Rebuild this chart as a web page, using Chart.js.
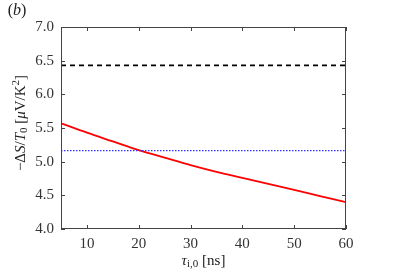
<!DOCTYPE html>
<html>
<head>
<meta charset="utf-8">
<style>
  *{margin:0;padding:0;box-sizing:border-box}
  html,body{width:407px;height:270px;background:#fff;overflow:hidden}
  .wrap{position:relative;width:407px;height:270px}
</style>
</head>
<body>
<div class="wrap"><canvas id="chart" width="407" height="270"></canvas></div>
<script src="https://cdn.jsdelivr.net/npm/chart.js@4/dist/chart.umd.min.js"></script>
<script>
// ─── Data ──────────────────────────────────────────────
const tau = [5, 10, 15, 20, 25, 30, 35, 40, 45, 50, 55, 60];
const deltaS = [5.57, 5.43, 5.30, 5.17, 5.06, 4.95, 4.85, 4.76, 4.67, 4.58, 4.49, 4.40];
const blackLevel = 6.43;
const blueLevel = 5.165;
const xTicks = [10, 20, 30, 40, 50, 60];
const yTicks = [4.0, 4.5, 5.0, 5.5, 6.0, 6.5, 7.0];

const SERIF = "'Liberation Serif', 'DejaVu Serif', serif";
const AXIS = "#444";

Chart.defaults.font.family = SERIF;
Chart.defaults.font.size = 15;

const pts = (xs, ys) => xs.map((x, i) => ({ x, y: ys[i] }));
const flat = (v) => [{ x: tau[0], y: v }, { x: tau[tau.length - 1], y: v }];

// draw a run of text pieces: [text, style, dy, sizeScale], centred on x
function drawRich(ctx, parts, x, y, size) {
  let w = 0;
  const seg = parts.map(([t, st, dy, sc]) => {
    ctx.font = `${st || ""} ${Math.round(size * (sc || 1))}px ${SERIF}`;
    const m = ctx.measureText(t).width;
    w += m;
    return { t, st, dy: dy || 0, sc: sc || 1, m };
  });
  let cx = x - w / 2;
  ctx.textBaseline = "middle";
  ctx.textAlign = "left";
  seg.forEach((s) => {
    ctx.font = `${s.st || ""} ${Math.round(size * s.sc)}px ${SERIF}`;
    ctx.fillText(s.t, cx, y + s.dy);
    cx += s.m;
  });
}

const frame = {
  id: "frame",
  afterDraw(chart) {
    const { ctx, chartArea: a, scales } = chart;
    ctx.save();
    ctx.strokeStyle = AXIS;
    ctx.lineWidth = 1;
    ctx.strokeRect(a.left + 0.5, a.top + 0.5, a.right - a.left - 1, a.bottom - a.top - 1);
    ctx.beginPath();
    xTicks.forEach((v) => {
      const px = Math.round(scales.x.getPixelForValue(v)) + 0.5;
      ctx.moveTo(px, a.bottom); ctx.lineTo(px, a.bottom - 4);
      ctx.moveTo(px, a.top); ctx.lineTo(px, a.top + 4);
    });
    yTicks.forEach((v) => {
      const py = Math.round(scales.y.getPixelForValue(v)) + 0.5;
      ctx.moveTo(a.left, py); ctx.lineTo(a.left + 4, py);
      ctx.moveTo(a.right, py); ctx.lineTo(a.right - 4, py);
    });
    ctx.stroke();

    ctx.fillStyle = "#222";
    // panel label
    drawRich(ctx, [["(", ""], ["b", "italic"], [")", ""]], 17, 11, 16);
    // x title
    drawRich(ctx, [["τ", "italic"], ["i,0", "", 3, 0.72], [" [ns]", ""]], (a.left + a.right) / 2, 261, 15);
    // y title
    ctx.translate(21, 123);
    ctx.rotate(-Math.PI / 2);
    drawRich(ctx, [
      ["−Δ", ""], ["S", "italic"], ["/", ""], ["T", "italic"], ["0", "", 3, 0.72],
      [" [", ""], ["μ", "italic"], ["V/K", ""], ["2", "", -5, 0.72], ["]", ""]
    ], 0, 0, 15);
    ctx.restore();
  }
};

const ctx = document.getElementById("chart").getContext("2d");
new Chart(ctx, {
  type: "line",
  data: {
    datasets: [
      { data: flat(blackLevel), borderColor: "#000", borderWidth: 1.6, borderDash: [5, 4], pointRadius: 0 },
      { data: flat(blueLevel), borderColor: "#3333ff", borderWidth: 1.2, borderDash: [1.5, 1.5], pointRadius: 0 },
      { data: pts(tau, deltaS), borderColor: "#ff0000", borderWidth: 1.8, pointRadius: 0, cubicInterpolationMode: "monotone" },
    ],
  },
  options: {
    responsive: false,
    animation: false,
    events: [],
    layout: { padding: { left: 0, top: 27, right: 61, bottom: 0 } },
    plugins: { legend: { display: false }, tooltip: { enabled: false } },
    scales: {
      x: {
        type: "linear", min: 5, max: 60,
        afterBuildTicks: (s) => { s.ticks = xTicks.map((v) => ({ value: v })); },
        afterFit: (s) => { s.height = 41; },
        grid: { display: false, drawTicks: false, tickLength: 0 },
        border: { display: false },
        ticks: { color: "#333", font: { family: SERIF, size: 15 }, padding: 6 },
      },
      y: {
        min: 4, max: 7,
        afterBuildTicks: (s) => { s.ticks = yTicks.map((v) => ({ value: v })); },
        afterFit: (s) => { s.width = 61; },
        grid: { display: false, drawTicks: false, tickLength: 0 },
        border: { display: false },
        ticks: { color: "#333", font: { family: SERIF, size: 15 }, padding: 7, callback: (v) => v.toFixed(1) },
      },
    },
  },
  plugins: [frame],
});
</script>
</body>
</html>
